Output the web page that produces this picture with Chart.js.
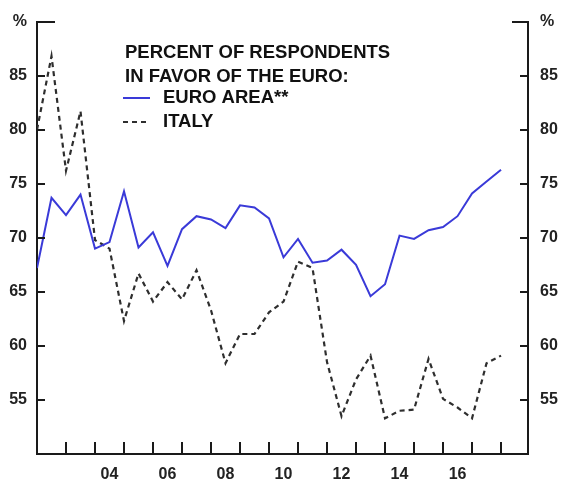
<!DOCTYPE html>
<html>
<head>
<meta charset="utf-8">
<script src="https://cdn.jsdelivr.net/npm/chart.js@4.4.1/dist/chart.umd.min.js"></script>
<style>
  html, body { margin: 0; padding: 0; background: #ffffff; }
  canvas { display: block; }
</style>
</head>
<body>
<canvas id="c" width="561" height="481"></canvas>
<script>
// ---- Data (semiannual surveys) ----
const periods = [2002, 2002.5, 2003, 2003.5, 2004, 2004.5, 2005, 2005.5, 2006, 2006.5,
  2007, 2007.5, 2008, 2008.5, 2009, 2009.5, 2010, 2010.5, 2011, 2011.5,
  2012, 2012.5, 2013, 2013.5, 2014, 2014.5, 2015, 2015.5, 2016, 2016.5,
  2017, 2017.5, 2018];
const euroArea = [67.2, 73.7, 72.1, 74.0, 69.0, 69.6, 74.3, 69.1, 70.5, 67.4,
  70.8, 72.0, 71.7, 70.9, 73.0, 72.8, 71.8, 68.2, 69.9, 67.7,
  67.9, 68.9, 67.5, 64.6, 65.7, 70.2, 69.9, 70.7, 71.0, 72.0,
  74.1, 75.2, 76.3];
const italy = [80.0, 86.8, 76.2, 81.7, 69.8, 69.0, 62.3, 66.7, 64.1, 65.9,
  64.3, 67.0, 63.3, 58.4, 61.1, 61.1, 63.1, 64.1, 67.8, 67.2,
  58.5, 53.5, 56.9, 59.1, 53.3, 54.0, 54.1, 58.8, 55.1, 54.3,
  53.3, 58.4, 59.1];
const seriesLabels = ['EURO AREA**', 'ITALY'];
const legendTitle = ['PERCENT OF RESPONDENTS', 'IN FAVOR OF THE EURO:'];
const yearTickMarks = [2003, 2004, 2005, 2006, 2007, 2008, 2009, 2010, 2011,
  2012, 2013, 2014, 2015, 2016, 2017, 2018];
const xLabelYears = [2004, 2006, 2008, 2010, 2012, 2014, 2016];
const xLabelTexts = ['04', '06', '08', '10', '12', '14', '16'];
const yTickValues = [55, 60, 65, 70, 75, 80, 85];

// ---- Styles ----
const AXIS = '#1a1a1a';
const TEXT = '#222222';
const BLUE = '#3a3ad8';
const DASH = '#2e2e2e';
const FONT = 'Liberation Sans, Arial, sans-serif';

const toPts = (vals) => vals.map((v, i) => ({ x: periods[i], y: v }));

const decor = {
  id: 'decor',
  afterDatasetsDraw(chart) {
    const ctx = chart.ctx;
    const x = chart.scales.x, yl = chart.scales.y, yr = chart.scales.y2;
    const a = chart.chartArea;
    ctx.save();
    ctx.strokeStyle = AXIS;
    ctx.lineWidth = 2;
    ctx.beginPath();
    // x tick marks (inward / upward)
    yearTickMarks.forEach(t => {
      const px = Math.round(x.getPixelForValue(t));
      ctx.moveTo(px, a.bottom); ctx.lineTo(px, a.bottom - 12);
    });
    // y tick marks (inward)
    yTickValues.forEach(v => {
      const py = Math.round(yl.getPixelForValue(v));
      ctx.moveTo(a.left, py); ctx.lineTo(a.left + 8, py);
      const py2 = Math.round(yr.getPixelForValue(v));
      ctx.moveTo(a.right, py2); ctx.lineTo(a.right - 8, py2);
    });
    // top caps
    const top = Math.round(yl.getPixelForValue(90));
    ctx.moveTo(a.left - 1, top); ctx.lineTo(a.left + 18, top);
    ctx.moveTo(a.right + 1, top); ctx.lineTo(a.right - 16, top);
    ctx.stroke();

    // legend
    ctx.fillStyle = '#111111';
    ctx.font = 'bold 18.5px ' + FONT;
    ctx.textBaseline = 'middle';
    ctx.textAlign = 'left';
    ctx.fillText(legendTitle[0], 125, 53);
    ctx.fillText(legendTitle[1], 125, 77);
    const ds = chart.data.datasets;
    const rows = [98, 122];
    ds.forEach((d, i) => {
      ctx.beginPath();
      ctx.strokeStyle = d.borderColor;
      ctx.lineWidth = 2;
      ctx.setLineDash(d.borderDash || []);
      ctx.moveTo(123, rows[i]); ctx.lineTo(150, rows[i]);
      ctx.stroke();
      ctx.setLineDash([]);
      ctx.fillText(d.label, 163, rows[i]);
    });
    ctx.restore();
  }
};

new Chart(document.getElementById('c'), {
  type: 'line',
  data: {
    datasets: [
      { label: seriesLabels[0], data: toPts(euroArea), borderColor: BLUE, borderWidth: 2,
        pointRadius: 0, tension: 0, fill: false },
      { label: seriesLabels[1], data: toPts(italy), borderColor: DASH, borderWidth: 2.2,
        borderDash: [5, 4], pointRadius: 0, tension: 0, fill: false }
    ]
  },
  options: {
    responsive: false,
    animation: false,
    events: [],
    layout: { padding: { top: 20, left: 0, right: 0, bottom: 0 } },
    plugins: { legend: { display: false }, tooltip: { enabled: false } },
    scales: {
      x: {
        type: 'linear', position: 'bottom', min: 2002, max: 2018.93,
        grid: { display: false, drawTicks: false },
        border: { display: true, color: AXIS, width: 2 },
        afterBuildTicks: (s) => { s.ticks = xLabelYears.map(v => ({ value: v + 0.5 })); },
        ticks: {
          autoSkip: false, maxRotation: 0, padding: 11,
          color: TEXT, font: { family: FONT, size: 16, weight: 'bold' },
          callback: (v) => { const i = xLabelYears.indexOf(v - 0.5); return i >= 0 ? xLabelTexts[i] : ''; }
        },
        afterFit: (s) => { s.height = 27; }
      },
      y: {
        type: 'linear', position: 'left', min: 50, max: 90,
        grid: { display: false, drawTicks: false },
        border: { display: true, color: AXIS, width: 2 },
        ticks: {
          stepSize: 5, padding: 10, color: TEXT,
          font: { family: FONT, size: 16, weight: 'bold' },
          callback: (v) => v === 90 ? '%' : (v === 50 ? null : String(v))
        },
        afterFit: (s) => { s.width = 37; }
      },
      y2: {
        type: 'linear', position: 'right', min: 50, max: 90,
        grid: { display: false, drawTicks: false },
        border: { display: true, color: AXIS, width: 2 },
        ticks: {
          stepSize: 5, padding: 12, color: TEXT,
          font: { family: FONT, size: 16, weight: 'bold' },
          callback: (v) => v === 90 ? '%' : (v === 50 ? null : String(v))
        },
        afterFit: (s) => { s.width = 33; }
      }
    }
  },
  plugins: [decor]
});
</script>
</body>
</html>
